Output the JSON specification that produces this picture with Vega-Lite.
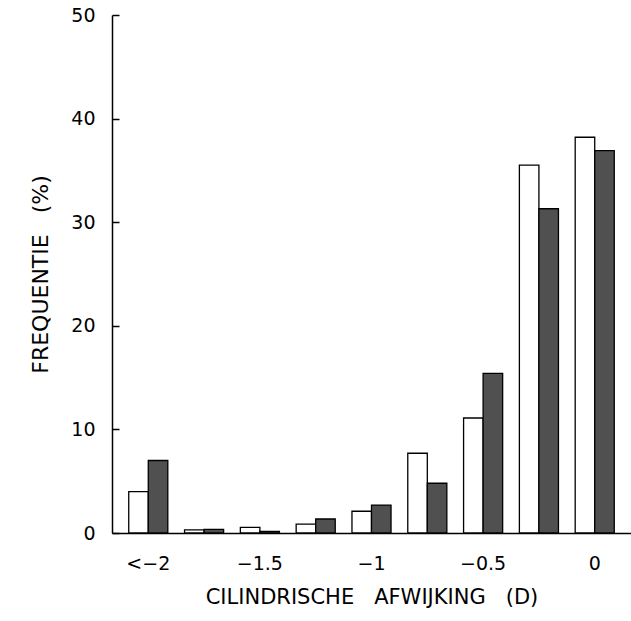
{
  "$schema": "https://vega.github.io/schema/vega-lite/v6.json",
  "width": 519,
  "height": 518,
  "autosize": "none",
  "padding": {"left": 112, "top": 15, "right": 0, "bottom": 88},
  "background": "white",
  "data": {
    "values": [
      {"d": "<−2", "s": "A", "v": 4.0},
      {"d": "<−2", "s": "B", "v": 7.0},
      {"d": "−1.75", "s": "A", "v": 0.3},
      {"d": "−1.75", "s": "B", "v": 0.35},
      {"d": "−1.5", "s": "A", "v": 0.55},
      {"d": "−1.5", "s": "B", "v": 0.15},
      {"d": "−1.25", "s": "A", "v": 0.85},
      {"d": "−1.25", "s": "B", "v": 1.35},
      {"d": "−1", "s": "A", "v": 2.1},
      {"d": "−1", "s": "B", "v": 2.7},
      {"d": "−0.75", "s": "A", "v": 7.7},
      {"d": "−0.75", "s": "B", "v": 4.8},
      {"d": "−0.5", "s": "A", "v": 11.1},
      {"d": "−0.5", "s": "B", "v": 15.4},
      {"d": "−0.25", "s": "A", "v": 35.5},
      {"d": "−0.25", "s": "B", "v": 31.3},
      {"d": "0", "s": "A", "v": 38.2},
      {"d": "0", "s": "B", "v": 36.9}
    ]
  },
  "encoding": {
    "x": {
      "field": "d",
      "type": "nominal",
      "sort": null,
      "scale": {"paddingInner": 0.3, "paddingOuter": 0.3},
      "axis": {
        "title": "CILINDRISCHE\u00a0\u00a0\u00a0AFWIJKING\u00a0\u00a0\u00a0(D)",
        "labelExpr": "indexof(['<−2','−1.5','−1','−0.5','0'], datum.value) >= 0 ? datum.value : ''",
        "labelAngle": 0,
        "ticks": false,
        "domainColor": "black",
        "domainWidth": 1.5,
        "labelFontSize": 19,
        "labelPadding": 21,
        "labelColor": "black",
        "labelFont": "DejaVu Sans",
        "titleFont": "DejaVu Sans",
        "titleFontSize": 21,
        "titleFontWeight": "normal",
        "titleColor": "black",
        "titlePadding": 13
      }
    },
    "xOffset": {"field": "s", "type": "nominal", "sort": ["A", "B"]}
  },
  "layer": [
    {
      "mark": {"type": "bar", "stroke": "black", "strokeWidth": 1.3},
      "encoding": {
        "y": {
          "field": "v",
          "type": "quantitative",
          "scale": {"domain": [0, 50]},
          "axis": {
            "title": "FREQUENTIE\u00a0\u00a0\u00a0(%)",
            "values": [0, 10, 20, 30, 40, 50],
            "grid": false,
            "ticks": false,
            "domainColor": "black",
            "domainWidth": 1.5,
            "labelFontSize": 19,
            "labelPadding": 17,
            "labelColor": "black",
            "labelFont": "DejaVu Sans",
            "titleFont": "DejaVu Sans",
            "titleFontSize": 22,
            "titleFontWeight": "normal",
            "titleColor": "black",
            "titlePadding": 18
          }
        },
        "fill": {
          "field": "s",
          "type": "nominal",
          "scale": {"domain": ["A", "B"], "range": ["white", "#505050"]},
          "legend": null
        }
      }
    },
    {
      "mark": {"type": "bar", "fillOpacity": 0, "strokeOpacity": 0},
      "encoding": {
        "y": {
          "field": "v",
          "type": "quantitative",
          "scale": {"domain": [0, 50]},
          "axis": {
            "orient": "right",
            "offset": -519,
            "title": null,
            "values": [0, 10, 20, 30, 40, 50],
            "grid": false,
            "domain": false,
            "labels": false,
            "ticks": true,
            "tickSize": 7,
            "tickWidth": 1.5,
            "tickColor": "black"
          }
        }
      }
    }
  ],
  "resolve": {"axis": {"y": "independent"}},
  "config": {"view": {"stroke": null}}
}
